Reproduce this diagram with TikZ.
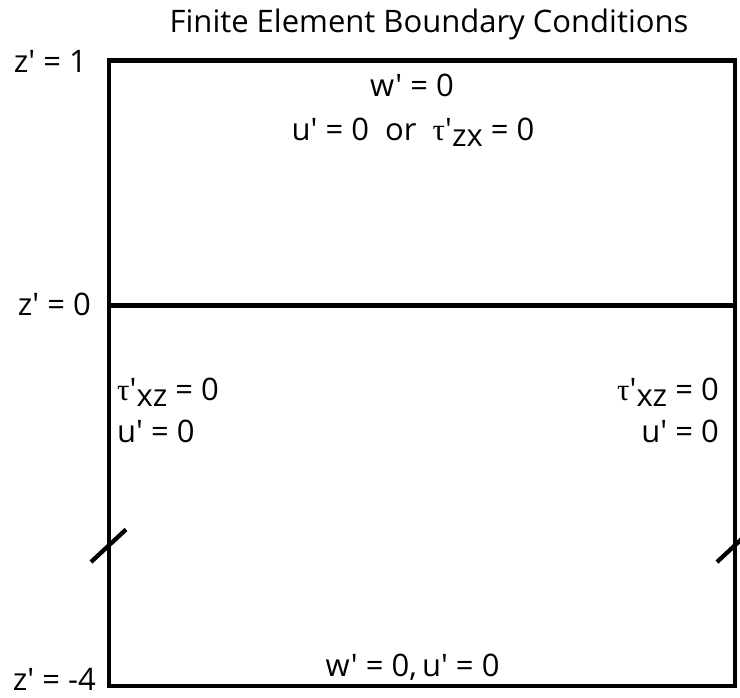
\documentclass[tikz,border=0pt]{standalone}
\usepackage{fontspec}
\setmainfont{Open Sans}[Ligatures=TeXOff]
\newfontfamily\grk{Liberation Serif}
\newcommand{\tauP}{{\grk\char"03C4}'}
\newcommand{\sbs}[1]{\raisebox{-6pt}{#1}}
\tikzset{
  lbl/.style={inner sep=0pt, font=\fontsize{31}{34}\selectfont},
  frame/.style={line width=4.6pt, line cap=rect},
  tick/.style={line width=4.3pt}
}
\begin{document}
\begin{tikzpicture}[x=1pt,y=-1pt]
\useasboundingbox (0,0) rectangle (740,698);
\clip (0,0) rectangle (740,698);
\coordinate (tl) at (109,60.5);
\coordinate (tr) at (735,60.5);
\coordinate (bl) at (109,686);
\coordinate (br) at (735,686);
\coordinate (ml) at (109,305.5);
\coordinate (mr) at (735,305.5);
\draw[frame] (tl) -- (tr) -- (br) -- (bl) -- cycle;
\draw[frame] (ml) -- (mr);
\coordinate (s1a) at (91,562);
\coordinate (s1b) at (126,529.5);
\coordinate (s2a) at (717,562);
\coordinate (s2b) at (752,529.5);
\draw[tick] (s1a) -- (s1b);
\draw[tick] (s2a) -- (s2b);
\node[lbl, anchor=base] (title) at (429,33) {Finite Element Boundary Conditions};
\node[lbl, anchor=base east] (z1) at (87,73) {z' = 1};
\node[lbl, anchor=base east] (z0) at (91,316) {z' = 0};
\node[lbl, anchor=base east] (z4) at (96,690) {z' = -4};
\node[lbl, anchor=base] (top1) at (412,97) {w' = 0};
\node[lbl, anchor=base] (top2) at (413,140.5) {u' = 0\ \ or\ \ \tauP\sbs{zx} = 0};
\node[lbl, anchor=base west] (l1) at (117,400.5) {\tauP\sbs{xz} = 0};
\node[lbl, anchor=base west] (l2) at (117,442.5) {u' = 0};
\node[lbl, anchor=base east] (r1) at (719,400.5) {\tauP\sbs{xz} = 0};
\node[lbl, anchor=base east] (r2) at (719,442.5) {u' = 0};
\node[lbl, anchor=base] (bot) at (412.5,676) {w' = 0,\,u' = 0};
\end{tikzpicture}
\end{document}
